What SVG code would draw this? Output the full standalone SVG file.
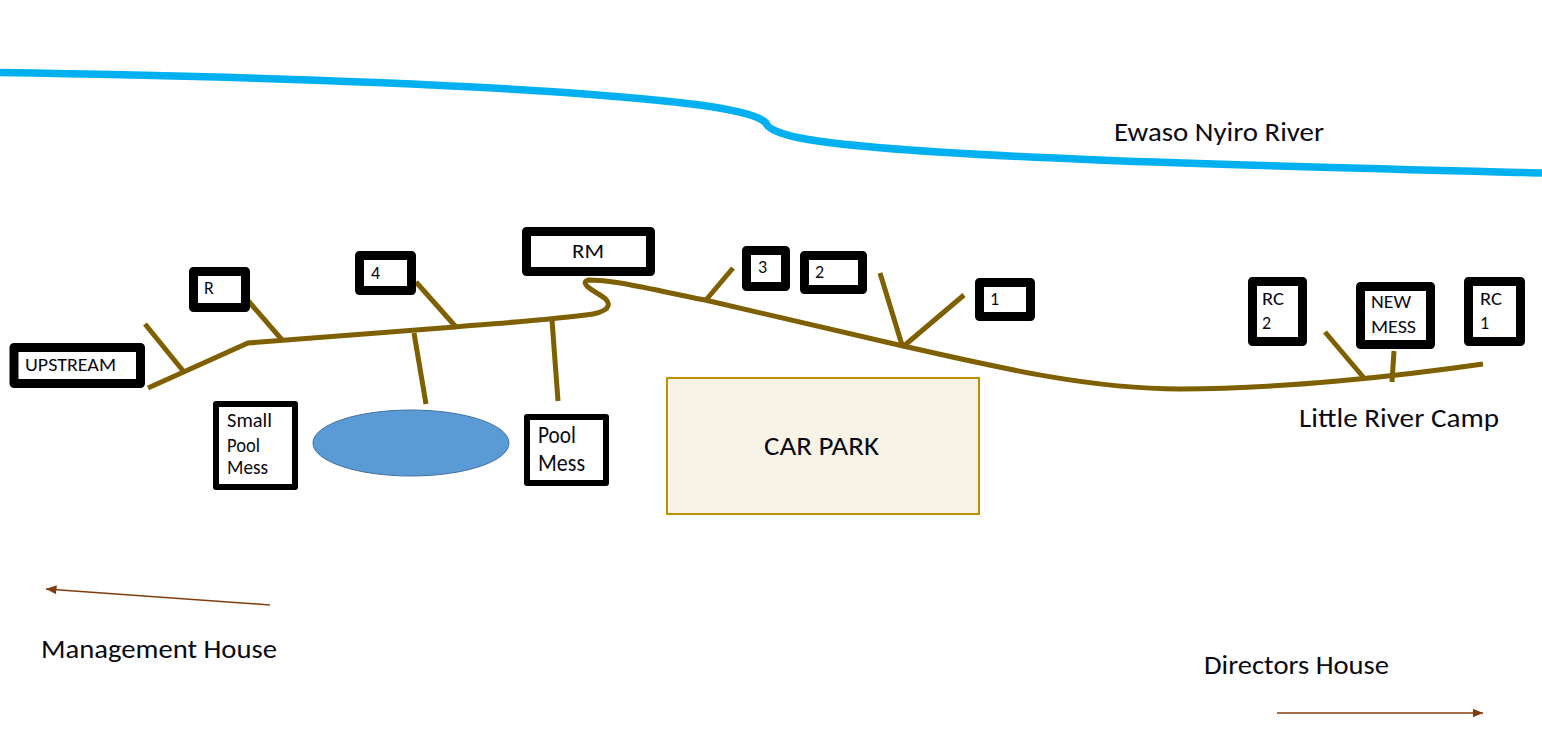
<svg xmlns="http://www.w3.org/2000/svg" width="1542" height="754" viewBox="0 0 1542 754">
<style>
text{font-family:Carlito,Lato,"Open Sans",sans-serif;fill:#0a0a14}
.b{fill:#fff;stroke:#000;stroke-width:9;stroke-linejoin:round}
.t{stroke-width:6}
.r{fill:none;stroke:#7f6000;stroke-width:5}
.a{fill:none;stroke:#843c0c;stroke-width:1.5;marker-end:url(#h)}
.s{font-size:18px}.m{font-size:20px}.l{font-size:24px}.x{font-size:27px}
</style>
<defs><marker id="h" markerWidth="7" markerHeight="6" refX="7" refY="3" orient="auto"><path d="M0 0L7 3L0 6Z" fill="#843c0c"/></marker></defs>
<rect width="1542" height="754" fill="#fff"/>
<g id="river"><path d="M0 72.500C230 76 540 85 700 105C735 110 760 116 766 123C768 130 785 135 800 138C900 158 1300 167 1542 173" fill="none" stroke="#00b0f0" stroke-width="7.500"/><text class="x" x="1114" y="141" textLength="210" lengthAdjust="spacingAndGlyphs">Ewaso Nyiro River</text></g>
<g id="connectors">
<path class="r" d="M148 388L248 343L455 327C500 323 550 320 593 314C612 310 612 302 600 295C590 289 580 283 588 280C615 280 640 287 705 300L903 346C1000 368 1090 389 1180 389C1280 389 1400 376 1483 364"/>
<path class="r" d="M145 324L184 372M244 296L283 341M416 282L456 327M414 333L426 404M552 320L558 401M706 300L733 268M880 273L902 345M905 345L964 295M1325 332L1364 378M1394 351L1392 382"/>
<path class="a" d="M270 605L46 589"/><path class="a" d="M1277 713L1483 713"/>
</g>
<g id="upstream"><rect class="b" x="14" y="347.5" width="126.500" height="36"/><text class="s" x="25" y="371" textLength="91" lengthAdjust="spacingAndGlyphs">UPSTREAM</text></g>
<g id="r"><rect class="b" x="193.500" y="271.500" width="52" height="36"/><text class="s" x="204" y="294">R</text></g>
<g id="small-pool-mess"><rect class="b t" x="216" y="404" width="79" height="83"/><text class="m" x="227" y="427" textLength="45" lengthAdjust="spacingAndGlyphs">Small</text><text class="m" x="227" y="452" textLength="33" lengthAdjust="spacingAndGlyphs">Pool</text><text class="m" x="227" y="474" textLength="41" lengthAdjust="spacingAndGlyphs">Mess</text></g>
<g id="n4"><rect class="b" x="359.500" y="255.500" width="52" height="35"/><text class="s" x="371" y="279">4</text></g>
<g id="rm"><rect class="b" x="526.500" y="231.500" width="124" height="40"/><text class="m" x="572" y="258" textLength="32" lengthAdjust="spacingAndGlyphs">RM</text></g>
<g id="pool-mess"><rect class="b t" x="527" y="417" width="79" height="66"/><text class="l" x="538" y="443" textLength="38" lengthAdjust="spacingAndGlyphs">Pool</text><text class="l" x="538" y="471" textLength="47" lengthAdjust="spacingAndGlyphs">Mess</text></g>
<g id="pond"><ellipse cx="411" cy="443" rx="98" ry="33" fill="#5b9bd5" stroke="#41719c" stroke-width="1"/></g>
<g id="n3"><rect class="b" x="746.500" y="250.500" width="39" height="36"/><text class="s" x="758" y="273">3</text></g>
<g id="n2"><rect class="b" x="804.500" y="255.500" width="58" height="34"/><text class="s" x="815" y="278">2</text></g>
<g id="n1"><rect class="b" x="979.500" y="282.500" width="51" height="34"/><text class="s" x="990" y="305">1</text></g>
<g id="car-park"><rect x="667" y="378" width="312" height="136" fill="#f7f3e6" stroke="#bf9000" stroke-width="2"/><text class="x" x="764" y="455" textLength="115" lengthAdjust="spacingAndGlyphs">CAR PARK</text></g>
<g id="rc2"><rect class="b" x="1252.500" y="281.500" width="50" height="60"/><text class="s" x="1262" y="305" textLength="22" lengthAdjust="spacingAndGlyphs">RC</text><text class="s" x="1262" y="329">2</text></g>
<g id="new-mess"><rect class="b" x="1360.500" y="286.500" width="70" height="58"/><text class="s" x="1371" y="308" textLength="40" lengthAdjust="spacingAndGlyphs">NEW</text><text class="s" x="1371" y="333" textLength="45" lengthAdjust="spacingAndGlyphs">MESS</text></g>
<g id="rc1"><rect class="b" x="1468.500" y="281.500" width="52" height="60"/><text class="s" x="1480" y="305" textLength="22" lengthAdjust="spacingAndGlyphs">RC</text><text class="s" x="1480" y="329">1</text></g>
<text class="x" x="1299" y="427" textLength="200" lengthAdjust="spacingAndGlyphs">Little River Camp</text>
<text class="x" x="41" y="658" textLength="236" lengthAdjust="spacingAndGlyphs">Management House</text>
<text class="x" x="1204" y="674" textLength="185" lengthAdjust="spacingAndGlyphs">Directors House</text>
</svg>
